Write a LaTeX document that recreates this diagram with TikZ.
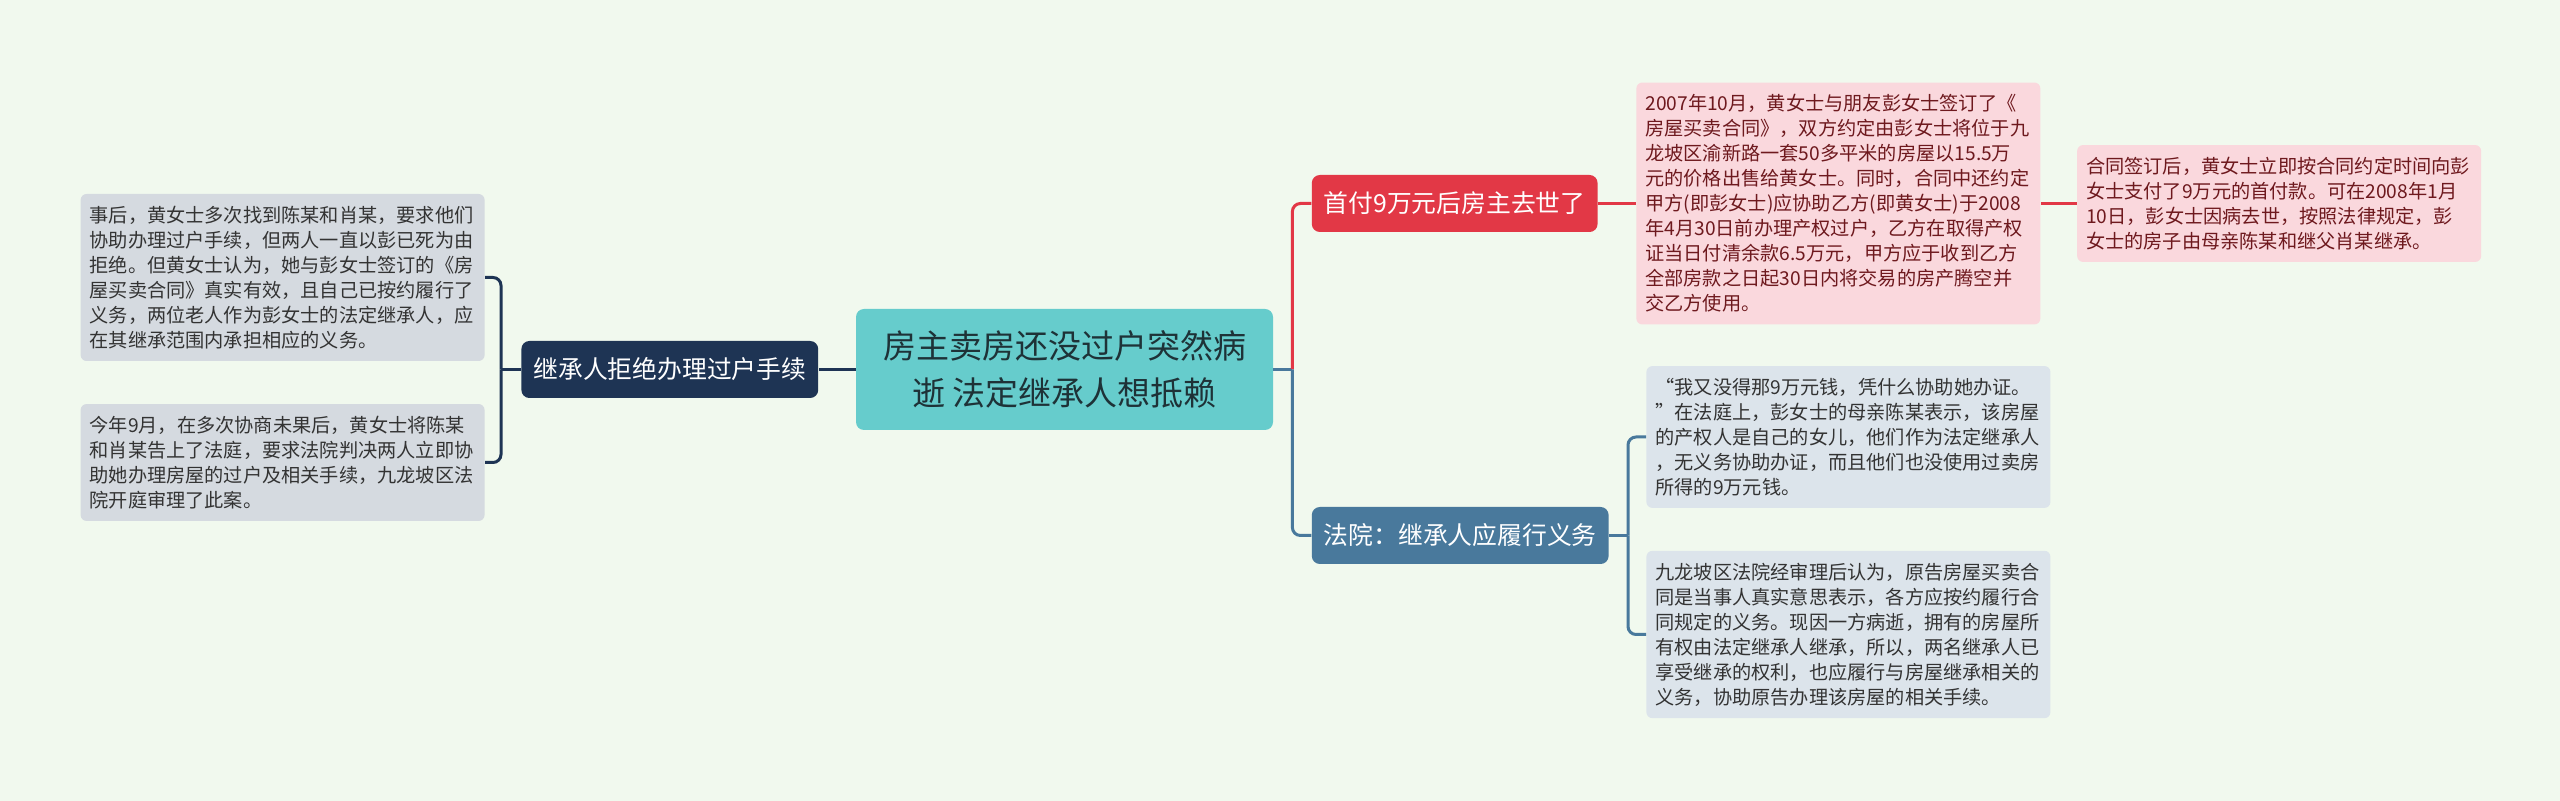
\documentclass[tikz,border=0pt]{standalone}
\usepackage{fontspec}
\newfontfamily\cjk{Noto Sans CJK SC}
\usepackage{tikz}
\usetikzlibrary{positioning}

\definecolor{bgc}{RGB}{241,249,238}
\definecolor{rootc}{RGB}{102,204,204}
\definecolor{navyc}{RGB}{30,52,84}
\definecolor{redc}{RGB}{226,56,70}
\definecolor{steelc}{RGB}{73,121,156}
\definecolor{grayleaf}{RGB}{213,218,224}
\definecolor{pinkleaf}{RGB}{250,216,221}
\definecolor{blueleaf}{RGB}{220,228,235}
\definecolor{leaftext}{RGB}{51,51,51}
\definecolor{redtext}{RGB}{110,25,30}

\begin{document}
\begin{tikzpicture}[
  x=0.5pt, y=-0.5pt,
  box/.style = {rounded corners=4pt, inner xsep=6pt, minimum height=28.5pt, text=white, font=\cjk\fontsize{12.4}{15}\selectfont},
  leaf/.style = {rounded corners=3pt, align=left, text width=193pt, inner xsep=4.5pt, inner ysep=6pt, text=leaftext, font=\cjk\fontsize{9.6}{12.5}\selectfont},
  link/.style = {line width=1.5pt, rounded corners=4pt}
]
\fill[bgc] (0,0) rectangle (2560,801);
\useasboundingbox (0,0) rectangle (2560,801);

\node[rounded corners=4pt, fill=rootc, align=center, minimum width=208.5pt, minimum height=60.5pt, text={rgb,255:red,30;green,50;blue,55}, font=\cjk\fontsize{16.5}{23.5}\selectfont] (R) at (1064.5,369.5) {房主卖房还没过户突然病\\逝 法定继承人想抵赖};
\node[box, fill=navyc, left=18.5pt of R] (Lh) {继承人拒绝办理过户手续};
\node[box, fill=redc, right=19pt of R, yshift=83pt] (Pay) {首付9万元后房主去世了};
\node[box, fill=steelc, right=19pt of R, yshift=-83pt] (Court) {法院：继承人应履行义务};

\node[leaf, fill=grayleaf, left=18pt of Lh, yshift=46pt] (L1) {事后，黄女士多次找到陈某和肖某，要求他们\\协助办理过户手续，但两人一直以彭已死为由\\拒绝。但黄女士认为，她与彭女士签订的《房\\屋买卖合同》真实有效，且自己已按约履行了\\义务，两位老人作为彭女士的法定继承人，应\\在其继承范围内承担相应的义务。};
\node[leaf, fill=grayleaf, left=18pt of Lh, yshift=-46.5pt] (L2) {今年9月，在多次协商未果后，黄女士将陈某\\和肖某告上了法庭，要求法院判决两人立即协\\助她办理房屋的过户及相关手续，九龙坡区法\\院开庭审理了此案。};
\node[leaf, fill=pinkleaf, text=redtext, right=19pt of Pay] (P1) {2007年10月，黄女士与朋友彭女士签订了《\\房屋买卖合同》，双方约定由彭女士将位于九\\龙坡区渝新路一套50多平米的房屋以15.5万\\元的价格出售给黄女士。同时，合同中还约定\\甲方(即彭女士)应协助乙方(即黄女士)于2008\\年4月30日前办理产权过户，乙方在取得产权\\证当日付清余款6.5万元，甲方应于收到乙方\\全部房款之日起30日内将交易的房产腾空并\\交乙方使用。};
\node[leaf, fill=pinkleaf, text=redtext, right=18pt of P1] (P2) {合同签订后，黄女士立即按合同约定时间向彭\\女士支付了9万元的首付款。可在2008年1月\\10日，彭女士因病去世，按照法律规定，彭\\女士的房子由母亲陈某和继父肖某继承。};
\node[leaf, fill=blueleaf, right=18.5pt of Court, yshift=49.25pt] (C1) {“我又没得那9万元钱，凭什么协助她办证。\\”在法庭上，彭女士的母亲陈某表示，该房屋\\的产权人是自己的女儿，他们作为法定继承人\\，无义务协助办证，而且他们也没使用过卖房\\所得的9万元钱。};
\node[leaf, fill=blueleaf, right=18.5pt of Court, yshift=-49.5pt] (C2) {九龙坡区法院经审理后认为，原告房屋买卖合\\同是当事人真实意思表示，各方应按约履行合\\同规定的义务。现因一方病逝，拥有的房屋所\\有权由法定继承人继承，所以，两名继承人已\\享受继承的权利，也应履行与房屋继承相关的\\义务，协助原告办理该房屋的相关手续。};

\draw[link, draw=navyc] (R) -- (Lh);
\draw[link, draw=navyc] (Lh.west) -- ++(-20,0) coordinate (jl);
\draw[link, draw=navyc] (jl) |- (L1.east);
\draw[link, draw=navyc] (jl) |- (L2.east);
\draw[link, draw=steelc] (R.east) -- ++(19,0) coordinate (jr);
\draw[link, draw=redc] (jr) |- (Pay.west);
\draw[link, draw=steelc] (jr) |- (Court.west);
\draw[link, draw=redc] (Pay) -- (P1);
\draw[link, draw=redc] (P1) -- (P2);
\draw[link, draw=steelc] (Court.east) -- ++(19,0) coordinate (jc);
\draw[link, draw=steelc] (jc) |- (C1.west);
\draw[link, draw=steelc] (jc) |- (C2.west);
\end{tikzpicture}
\end{document}
